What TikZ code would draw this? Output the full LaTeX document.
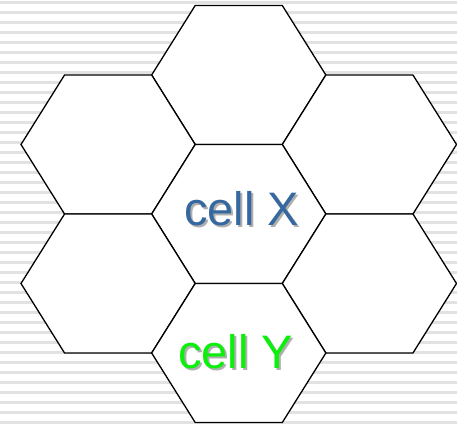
\documentclass[tikz,border=0pt]{standalone}
\usepackage{fontspec}
\setmainfont{Liberation Sans}
\definecolor{stripe}{RGB}{226,226,226}
\definecolor{cellblue}{RGB}{54,104,160}
\definecolor{cellgreen}{RGB}{10,240,10}
\definecolor{shadowgray}{RGB}{175,175,175}
% text with a soft drop shadow set 2pt right and 2pt down
\newcommand\shadowed[2]{%
  \makebox[0pt][l]{\hspace{2pt}\raisebox{-2pt}{\color{shadowgray}#2}}%
  {\color{#1}#2}}
\begin{document}
\begin{tikzpicture}[x=1pt,y=-1pt,
  hexcell/.style={draw=black, line width=1.3pt, fill=white, line join=miter},
  celltext/.style={anchor=base, inner sep=0pt, font=\fontsize{47}{47}\selectfont}]
\useasboundingbox (0,0) rectangle (457,425);
% striped backdrop
\fill[white] (0,0) rectangle (457,425);
\foreach \k in {0,...,42} {
  \fill[stripe] (0,{\k*10+1.3}) rectangle (457,{\k*10+3.7});
}
% flat-topped hexagonal cells: s = half width, h = half height
\def\s{87.1}
\def\h{69.5}
\foreach \cx/\cy in {238.75/75, 108.1/144.5, 369.4/144.5, 238.75/214,
                     108.1/283.5, 369.4/283.5, 238.75/353} {
  \draw[hexcell] ({\cx-\s/2},{\cy-\h}) -- ({\cx+\s/2},{\cy-\h}) -- ({\cx+\s},\cy)
    -- ({\cx+\s/2},{\cy+\h}) -- ({\cx-\s/2},{\cy+\h}) -- ({\cx-\s},\cy) -- cycle;
}
% cell labels
\node[celltext] (x) at (241.5,225) {\shadowed{cellblue}{cell X}};
\node[celltext] (y) at (235.5,368) {\shadowed{cellgreen}{cell Y}};
\end{tikzpicture}
\end{document}
